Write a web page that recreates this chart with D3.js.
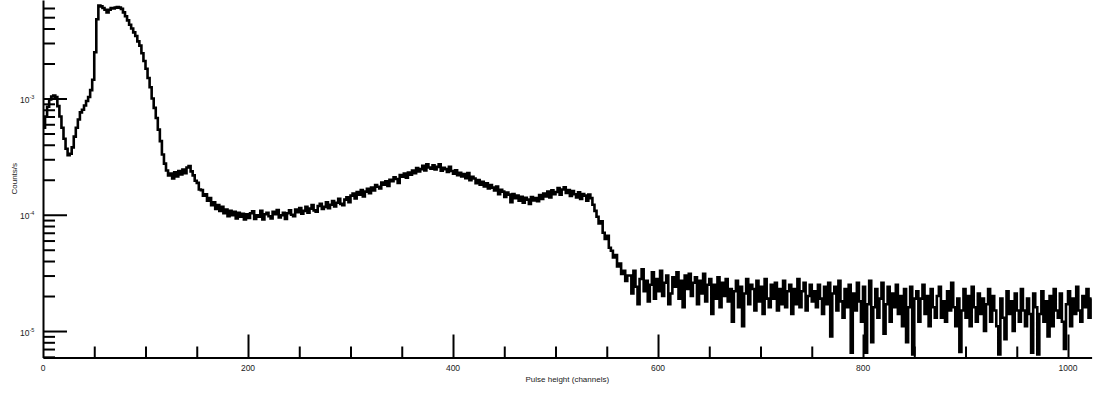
<!DOCTYPE html>
<html><head><meta charset="utf-8">
<script src="https://cdn.jsdelivr.net/npm/d3@7"></script>
<style>
body{margin:0;background:#fff}
svg{display:block}
text{font-family:"Liberation Sans",Arial,Helvetica,sans-serif;fill:#222}
</style>
</head><body><svg id="c" width="1094" height="394"></svg>
<script>
// channels per histogram bin
const binWidth = 2;
// count rate per bin, in units of 1e-6 counts/s
const rateE6 = [
560,700,850,980,1040,1060,1030,860,700,560,
450,370,325,335,380,470,560,660,760,800,
870,950,1030,1180,1450,
2500,4800,6300,6200,6000,5800,5500,5800,6000,5950,
6050,6100,6050,5900,5500,5100,4700,4300,4000,3700,
3450,3100,2850,2450,2100,
1800,1500,1250,1000,830,680,540,430,330,275,
240,218,226,205,232,214,238,222,245,228,
255,262,236,218,196,188,165,163,146,150,
132,139,121,128,112,121,108,117,103,111,
97,108,99,106,93,104,96,102,91,101,
94,103,107,92,99,96,108,91,101,104,
97,93,106,101,110,95,99,104,92,103,
109,100,97,111,105,114,102,108,117,104,
113,121,109,106,119,124,112,117,128,114,
122,131,118,127,137,124,121,135,141,128,
146,152,138,157,149,163,144,158,167,153,
171,162,180,174,168,189,181,194,177,200,
194,210,203,188,219,212,226,208,231,221,
240,228,252,236,247,264,241,271,255,249,
266,245,258,272,239,254,247,233,259,238,
226,241,219,230,213,224,206,228,198,212,
205,187,199,181,192,175,186,168,180,171,
162,175,150,164,158,142,155,149,128,151,
139,146,132,143,127,140,135,124,142,133,
139,131,148,137,152,144,158,141,162,150,
157,170,149,165,172,154,163,145,160,150,
141,156,137,151,146,132,149,139,
122,108,96,84,88,70,62,66,52,49,
43,45,36,38,31,33,27,30,
30,21,33,24,17,28,34,22,27,18,
25,32,19,28,22,33,20,26,30,17,
21,29,24,32,19,27,16,30,23,31,
20,26,29,17,27,21,31,18,25,28,
14,25,19,29,16,26,20,28,18,23,
12,22,27,16,24,11,21,28,17,25,
23,15,27,18,24,14,28,19,16,25,
19,26,15,23,17,27,16,22,25,14,
23,17,28,16,22,26,15,20,25,18,
22,16,25,19,14,24,17,26,9,21,
24,15,27,18,13,23,16,25,6.5,21,
15,26,18,12,24,6.5,17,27,8,16,
23,13,19,26,9.5,17,24,12,21,16,
25,14,20,11,23,8,16,24,6.3,19,
22,12,19,25,14,20,11,23,16,13,
20,24,13,18,12,22,15,26,16,11,
19,6.6,15,23,13,20,11,24,16,12,
21,14,19,10,17,23,12,20,15,11,
6.3,19,13,8.5,22,14,18,10,21,15,
12,23,15,11,19,14,6.5,21,16,6.3,
14,22,12,18,9,20,11,23,15,13,
21,12,7,17,22,11,19,14,24,15,
12,20,16,23,13,19
];
const xMinorTicks = [50,100,150,250,300,350,450,500,550,650,700,750,850,900,950];
const xMajorTicks = [0,200,400,600,800,1000];
const xTickLabels = ["0","200","400","600","800","1000"];
const yMajorTicks = [1e-5,1e-4,1e-3];
const yTickExponents = ["-5","-4","-3"];
const yMinorTicks = [6e-6,7e-6,8e-6,9e-6,
  2e-5,3e-5,4e-5,5e-5,6e-5,7e-5,8e-5,9e-5,
  2e-4,3e-4,4e-4,5e-4,6e-4,7e-4,8e-4,9e-4,
  2e-3,3e-3,4e-3,5e-3,6e-3];
const xTitle = "Pulse height (channels)";
const yTitle = "Counts/s";

const svg = d3.select("#c");
const plotLeft = 43, plotBottom = 357.5, plotTop = 0, plotRight = 1091.6;
const x = d3.scaleLinear().domain([0, 1023]).range([plotLeft, plotRight]);
const y = d3.scaleLog().domain([5.92e-6, 7.03e-3]).range([plotBottom, plotTop]);

// data line (step histogram)
const pts = rateE6.map((v, i) => [i * binWidth, v * 1e-6]);
pts.push([rateE6.length * binWidth - 1, rateE6[rateE6.length - 1] * 1e-6]);
const line = d3.line().x(d => x(d[0])).y(d => y(d[1])).curve(d3.curveStepAfter);
svg.append("path").datum(pts).attr("d", line)
  .attr("fill", "none").attr("stroke", "#000").attr("stroke-width", 2.6)
  .attr("stroke-linejoin", "miter");

function styleAxis(g) {
  g.selectAll("path,line").attr("stroke", "#000").attr("stroke-width", 2);
  g.selectAll("text").remove();
}
// x axis ticks (pointing up)
svg.append("g").attr("transform", `translate(0,${plotBottom})`)
  .call(d3.axisTop(x).tickValues(xMinorTicks).tickSize(11).tickSizeOuter(0).tickFormat(""))
  .call(styleAxis);
svg.append("g").attr("transform", `translate(0,${plotBottom})`)
  .call(d3.axisTop(x).tickValues(xMajorTicks.slice(1)).tickSize(23).tickSizeOuter(0).tickFormat(""))
  .call(styleAxis).select(".domain").remove();
svg.append("g").selectAll("text").data(xMajorTicks).join("text")
  .attr("x", d => x(d)).attr("y", plotBottom + 13.5)
  .attr("text-anchor", "middle").attr("font-size", 8.5)
  .text((d, i) => xTickLabels[i]);
svg.append("text").attr("x", (plotLeft + plotRight) / 2).attr("y", plotBottom + 24.5)
  .attr("text-anchor", "middle").attr("font-size", 8).text(xTitle);

// y axis ticks (pointing right)
svg.append("g").attr("transform", `translate(${plotLeft},0)`)
  .call(d3.axisRight(y).tickValues(yMinorTicks).tickSize(12).tickSizeOuter(0).tickFormat(""))
  .call(styleAxis);
svg.append("g").attr("transform", `translate(${plotLeft},0)`)
  .call(d3.axisRight(y).tickValues(yMajorTicks).tickSize(24).tickSizeOuter(0).tickFormat(""))
  .call(styleAxis).select(".domain").remove();
const yl = svg.append("g").selectAll("text").data(yMajorTicks).join("text")
  .attr("x", 20).attr("y", d => y(d) + 4.5).attr("font-size", 8.5);
yl.append("tspan").text("10");
yl.append("tspan").attr("dy", -4).attr("font-size", 5.5).text((d, i) => yTickExponents[i]);
svg.append("text").attr("transform", `translate(16.5,${(plotTop + plotBottom) / 2}) rotate(-90)`)
  .attr("text-anchor", "middle").attr("font-size", 8).text(yTitle);
</script>
</body></html>
